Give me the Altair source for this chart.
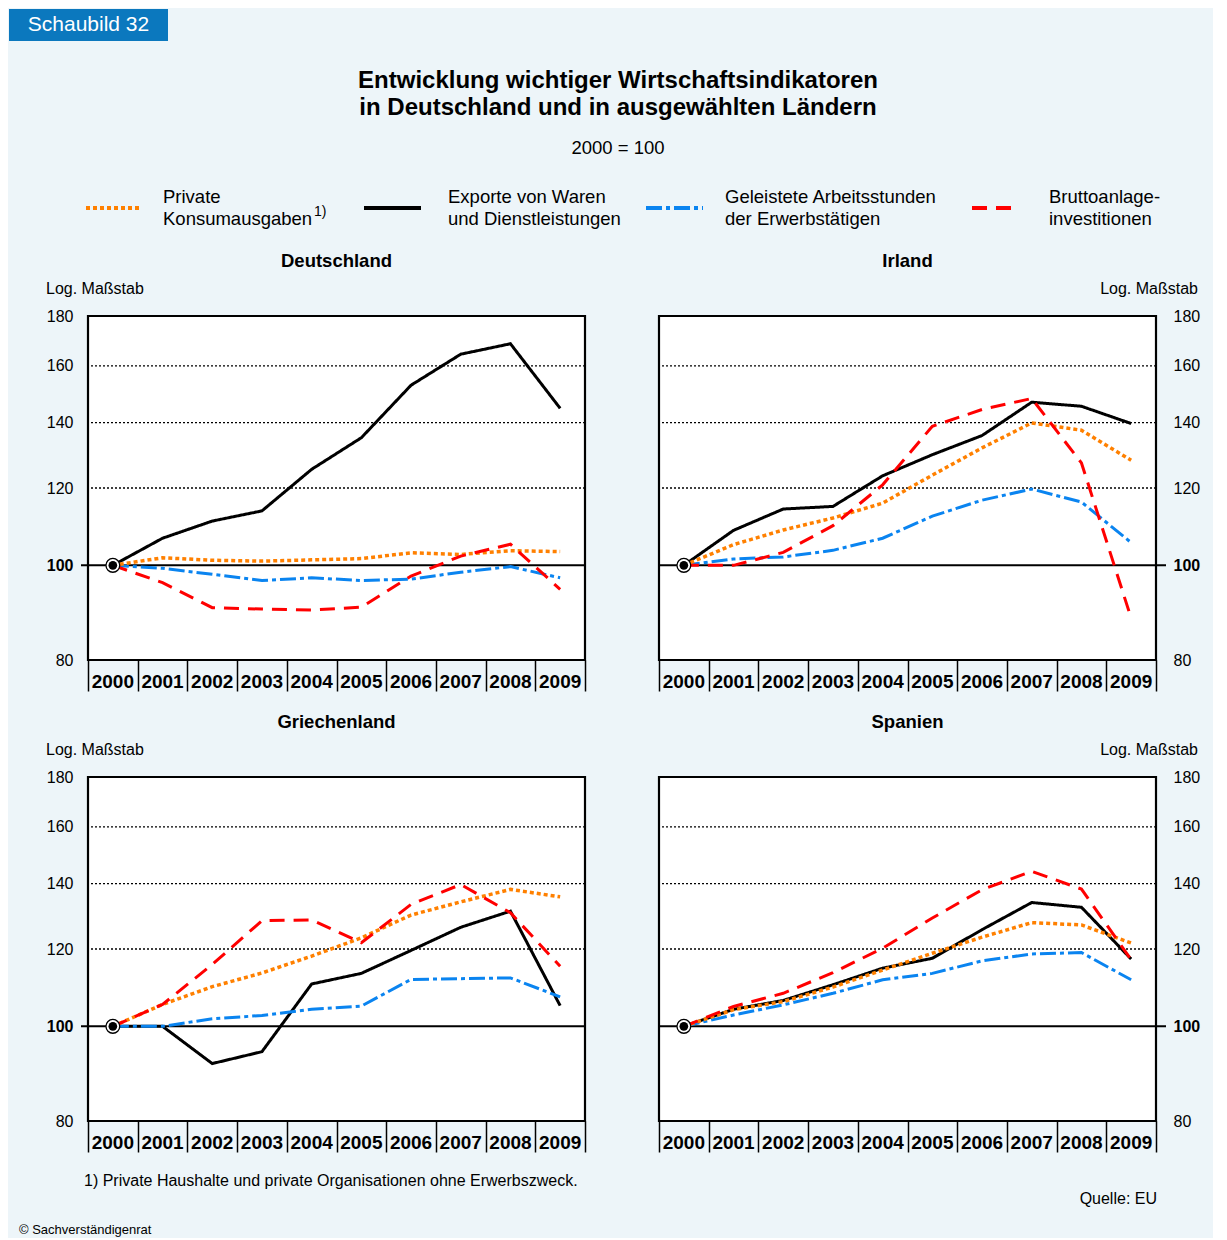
import altair as alt
import pandas as pd

# ---------------- data ----------------
years = [2000, 2001, 2002, 2003, 2004, 2005, 2006, 2007, 2008, 2009]
series_names = [
    "Exporte von Waren und Dienstleistungen",
    "Geleistete Arbeitsstunden der Erwerbstätigen",
    "Private Konsumausgaben",
    "Bruttoanlageinvestitionen",
]

de_export = [100, 106.6, 111.0, 113.7, 125.4, 135.1, 152.9, 164.5, 168.6, 144.8]
de_stunden = [100, 99.3, 97.9, 96.5, 97.1, 96.5, 96.8, 98.4, 99.7, 97.1]
de_konsum = [100, 101.8, 101.2, 101.0, 101.3, 101.6, 103.0, 102.6, 103.5, 103.3]
de_invest = [100, 96.0, 90.5, 90.2, 90.0, 90.6, 97.5, 102.2, 105.1, 94.5]

ie_export = [100, 108.6, 114.2, 114.9, 123.5, 129.8, 135.8, 146.9, 145.5, 139.7]
ie_stunden = [100, 101.5, 102.0, 103.6, 106.6, 112.3, 116.6, 119.7, 116.1, 105.5]
ie_konsum = [100, 105.0, 108.7, 111.8, 115.8, 123.7, 131.9, 139.9, 137.5, 128.1]
ie_invest = [100, 100.0, 103.1, 109.8, 120.9, 138.8, 144.4, 148.2, 127.3, 88.3]

gr_export = [100, 100.0, 91.6, 94.2, 110.5, 113.3, 119.6, 126.3, 131.2, 105.0]
gr_stunden = [100, 100.0, 101.8, 102.6, 104.1, 104.9, 111.7, 111.9, 112.1, 107.2]
gr_konsum = [100, 105.3, 109.8, 113.4, 118.0, 123.2, 130.0, 134.1, 138.1, 135.7]
gr_invest = [100, 105.3, 115.7, 128.3, 128.5, 121.8, 133.3, 139.7, 130.7, 115.2]

es_export = [100, 104.1, 106.3, 110.3, 114.7, 117.4, 125.6, 133.9, 132.4, 117.2]
es_stunden = [100, 102.7, 105.2, 108.1, 111.6, 113.3, 116.7, 118.6, 119.0, 111.6]
es_konsum = [100, 104.0, 106.0, 109.7, 114.2, 118.8, 123.4, 127.7, 127.0, 121.7]
es_invest = [100, 104.8, 108.1, 113.5, 120.2, 129.1, 138.0, 144.1, 138.2, 117.0]

y_ticks = [80, 100, 120, 140, 160, 180]
grid_values = [120, 140, 160]
base_value = [100]

# ---------------- styles ----------------
BG = "#EDF5F9"
BLUEBOX = "#0B78BE"
styles = {
    "Exporte von Waren und Dienstleistungen": dict(color="#000000", dash=[1, 0], width=3),
    "Geleistete Arbeitsstunden der Erwerbstätigen": dict(color="#0A84F0", dash=[16, 4, 4, 4], width=3),
    "Private Konsumausgaben": dict(color="#FF8000", dash=[4, 3], width=3.5),
    "Bruttoanlageinvestitionen": dict(color="#FF0000", dash=[15, 9], width=3),
}

W, H = 497, 344


def one():
    return pd.DataFrame({"t": [0]})


def txt(s, x, y, size=16, weight="normal", align="left", color="black"):
    return alt.Chart(pd.DataFrame({"t": [s]})).mark_text(
        fontSize=size, fontWeight=weight, align=align, baseline="middle", color=color
    ).encode(x=alt.value(x), y=alt.value(y), text="t:N")


def panel(country, values, right=False, extra=()):
    xs = alt.Scale(type="band", paddingInner=0, paddingOuter=0)
    ys = alt.Scale(type="log", domain=[80, 180], nice=False)
    xaxis = alt.Axis(tickBand="extent", tickSize=31, tickColor="black", tickWidth=1.5,
                     labels=False, domain=False, grid=False, title=None)
    yaxis = alt.Axis(orient="right" if right else "left", values=y_ticks, labelFontSize=16,
                     labelColor="black",
                     labelFontWeight={"condition": {"test": "datum.value == 100", "value": "bold"},
                                      "value": "normal"},
                     labelPadding=17 if right else 15, ticks=False, tickSize=0,
                     domain=False, grid=False, title=None)
    X = alt.X("year:O", scale=xs, axis=xaxis, bandPosition=0.5)
    Y = alt.Y("value:Q", scale=ys, axis=yaxis)

    layers = []
    # white plot area
    layers.append(alt.Chart(one()).mark_rect(color="white").encode(
        x=alt.value(0), x2=alt.value(W), y=alt.value(0), y2=alt.value(H)))
    # grid
    layers.append(alt.Chart(pd.DataFrame({"value": grid_values})).mark_rule(
        color="black", strokeDash=[2, 2], strokeWidth=1.3).encode(y=Y))
    # base line at 100
    if right:
        x1, x2 = 0, W + 10
    else:
        x1, x2 = -7, W
    layers.append(alt.Chart(pd.DataFrame({"value": base_value})).mark_rule(
        color="black", strokeWidth=2).encode(y=Y, x=alt.value(x1), x2=alt.value(x2)))
    # year labels
    layers.append(alt.Chart(pd.DataFrame({"year": years})).mark_text(
        fontSize=19, fontWeight="bold", baseline="middle", color="black").encode(
        x=X, y=alt.value(H + 22), text="year:O"))
    # lines
    for name in series_names:
        st = styles[name]
        df = pd.DataFrame({"year": years, "value": values[name]})
        layers.append(alt.Chart(df).mark_line(
            color=st["color"], strokeDash=st["dash"], strokeWidth=st["width"]).encode(x=X, y=Y))
    # start marker
    start = pd.DataFrame({"year": [years[0]], "value": [values[series_names[0]][0]]})
    layers.append(alt.Chart(start).mark_circle(size=190, color="white", opacity=1,
                                               stroke="black", strokeWidth=1.3).encode(x=X, y=Y))
    layers.append(alt.Chart(start).mark_circle(size=75, color="black", opacity=1).encode(x=X, y=Y))
    # plot border
    layers.append(alt.Chart(one()).mark_rect(filled=False, stroke="black", strokeWidth=2.2,
                                             fillOpacity=0).encode(
        x=alt.value(0), x2=alt.value(W), y=alt.value(0), y2=alt.value(H)))
    # country title + scale note
    layers.append(txt(country, W / 2, -55, size=18.5, weight="bold", align="center"))
    if right:
        layers.append(txt("Log. Maßstab", W + 42, -27, size=16, align="right"))
    else:
        layers.append(txt("Log. Maßstab", -42, -27, size=16, align="left"))
    layers.extend(extra)
    return alt.layer(*layers).properties(width=W, height=H)


# ---------------- header (placed relative to first panel) ----------------
header = []
header.append(alt.Chart(one()).mark_rect(color=BLUEBOX).encode(
    x=alt.value(-79), x2=alt.value(80), y=alt.value(-307), y2=alt.value(-275)))
header.append(txt("Schaubild 32", 0.5, -291, size=21, color="white", align="center"))
header.append(txt("Entwicklung wichtiger Wirtschaftsindikatoren", 530, -235, size=24,
                  weight="bold", align="center"))
header.append(txt("in Deutschland und in ausgewählten Ländern", 530, -208, size=24,
                  weight="bold", align="center"))
header.append(txt("2000 = 100", 530, -168, size=18.5, align="center"))

legend_items = [
    ("Private Konsumausgaben", -2, 54, 75, ["Private", "Konsumausgaben"]),
    ("Exporte von Waren und Dienstleistungen", 276, 333, 360, ["Exporte von Waren", "und Dienstleistungen"]),
    ("Geleistete Arbeitsstunden der Erwerbstätigen", 558, 615, 637, ["Geleistete Arbeitsstunden", "der Erwerbstätigen"]),
    ("Bruttoanlageinvestitionen", 884, 930, 961, ["Bruttoanlage-", "investitionen"]),
]
for name, sx1, sx2, lx, lines in legend_items:
    st = styles[name]
    header.append(alt.Chart(one()).mark_rule(color=st["color"], strokeDash=st["dash"],
                                             strokeWidth=4).encode(
        x=alt.value(sx1), x2=alt.value(sx2), y=alt.value(-108)))
    header.append(txt(lines[0], lx, -119, size=18.5))
    header.append(txt(lines[1], lx, -97, size=18.5))
header.append(txt("1)", 226, -104, size=14))

footer_gr = [
    txt("1) Private Haushalte und private Organisationen ohne Erwerbszweck.", -4, 404, size=16),
    txt("© Sachverständigenrat", -69, 453, size=13),
]
footer_es = [
    txt("Quelle: EU", 498, 422, size=16, align="right"),
    alt.Chart(one()).mark_rect(color=BG).encode(
        x=alt.value(550), x2=alt.value(553), y=alt.value(453), y2=alt.value(456)),
]


def vals(e, s, k, i):
    return {series_names[0]: e, series_names[1]: s, series_names[2]: k, series_names[3]: i}


de = panel("Deutschland", vals(de_export, de_stunden, de_konsum, de_invest), extra=header)
ie = panel("Irland", vals(ie_export, ie_stunden, ie_konsum, ie_invest), right=True)
gr = panel("Griechenland", vals(gr_export, gr_stunden, gr_konsum, gr_invest), extra=footer_gr)
es = panel("Spanien", vals(es_export, es_stunden, es_konsum, es_invest), right=True, extra=footer_es)

chart = alt.concat(de, ie, gr, es, columns=2, spacing={"row": 117, "column": 74},
                   bounds="flush").properties(background=BG, padding=0).configure_view(
    fill="white", stroke=None).configure(font="Liberation Sans")

chart.save("out.html", embed_options={"renderer": "svg", "actions": False})
